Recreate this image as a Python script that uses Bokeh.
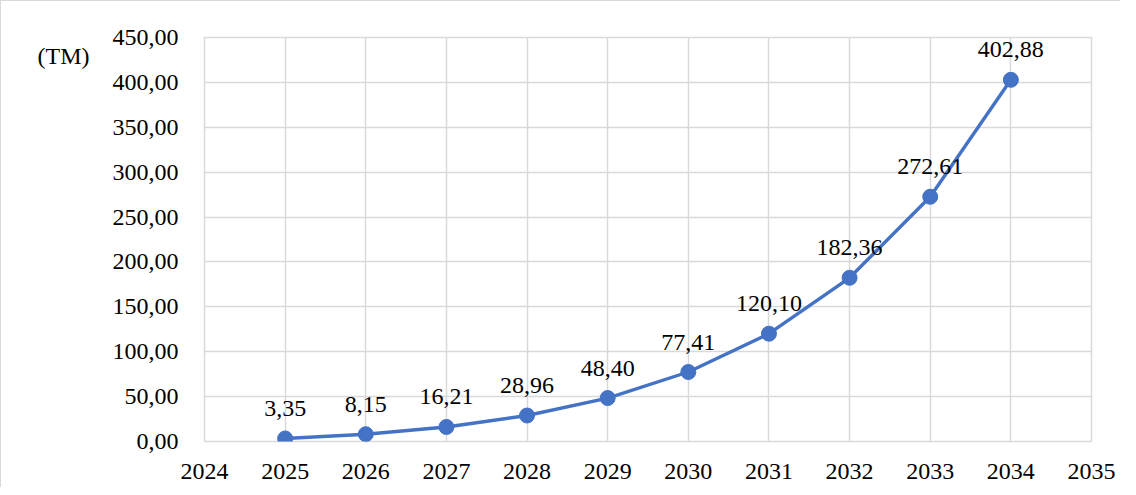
from bokeh.plotting import figure
from bokeh.models import ColumnDataSource, Range1d, FixedTicker, CustomJSTickFormatter, LabelSet
from bokeh.embed import file_html
from bokeh.resources import INLINE

years = [2025, 2026, 2027, 2028, 2029, 2030, 2031, 2032, 2033, 2034]
ventas = [3.35, 8.15, 16.21, 28.96, 48.40, 77.41, 120.10, 182.36, 272.61, 402.88]
x_ticks = list(range(2024, 2036))
y_ticks = [0, 50, 100, 150, 200, 250, 300, 350, 400, 450]
unit_label = "(TM)"

labels = [f"{v:.2f}".replace(".", ",") for v in ventas]
src = ColumnDataSource(dict(x=years, y=ventas, lab=labels))

FONT = "'Liberation Serif', 'Times New Roman', serif"
GRID = "#d9d9d9"
BLUE = "#4472C4"

p = figure(width=1120, height=487, output_backend="svg", toolbar_location=None,
           x_range=Range1d(2024, 2035), y_range=Range1d(0, 450),
           min_border_left=203, min_border_top=36, min_border_right=30, min_border_bottom=47,
           styles={"border-left": "1px solid #d9d9d9", "border-top": "1px solid #d9d9d9"})
p.outline_line_color = GRID
p.outline_line_width = 1.5
p.background_fill_color = "white"
p.border_fill_color = "white"

p.xaxis.ticker = FixedTicker(ticks=x_ticks)
p.yaxis.ticker = FixedTicker(ticks=y_ticks)
p.yaxis.formatter = CustomJSTickFormatter(code="return tick.toFixed(2).replace('.', ',');")
for ax in (p.xaxis, p.yaxis):
    ax.axis_line_color = None
    ax.major_tick_line_color = None
    ax.minor_tick_line_color = None
    ax.major_label_text_font = FONT
    ax.major_label_text_font_size = "24px"
    ax.major_label_text_color = "black"
p.yaxis.major_label_standoff = 20
p.xaxis.major_label_standoff = 16

yax = p.yaxis[0]
yax.axis_label = "\n" + unit_label
yax.axis_label_orientation = "horizontal"
yax.axis_label_text_font = FONT
yax.axis_label_text_font_size = "24px"
yax.axis_label_text_font_style = "normal"
yax.axis_label_text_color = "black"
yax.axis_label_text_line_height = 1.4
yax.axis_label_standoff = 20
if "axis_label_align" in yax.properties():
    yax.axis_label_align = "end"

p.xgrid.ticker = FixedTicker(ticks=x_ticks)
p.ygrid.ticker = FixedTicker(ticks=y_ticks)
p.grid.grid_line_color = GRID
p.grid.grid_line_width = 1.5

p.line("x", "y", source=src, line_color=BLUE, line_width=3.4)
p.scatter("x", "y", source=src, size=15, fill_color=BLUE, line_color=BLUE)

ls = LabelSet(x="x", y="y", text="lab", source=src, y_offset=30,
              text_align="center", text_baseline="middle",
              text_font=FONT, text_font_size="24px", text_color="black")
p.add_layout(ls)

open("out.html", "w").write(file_html(p, INLINE))
